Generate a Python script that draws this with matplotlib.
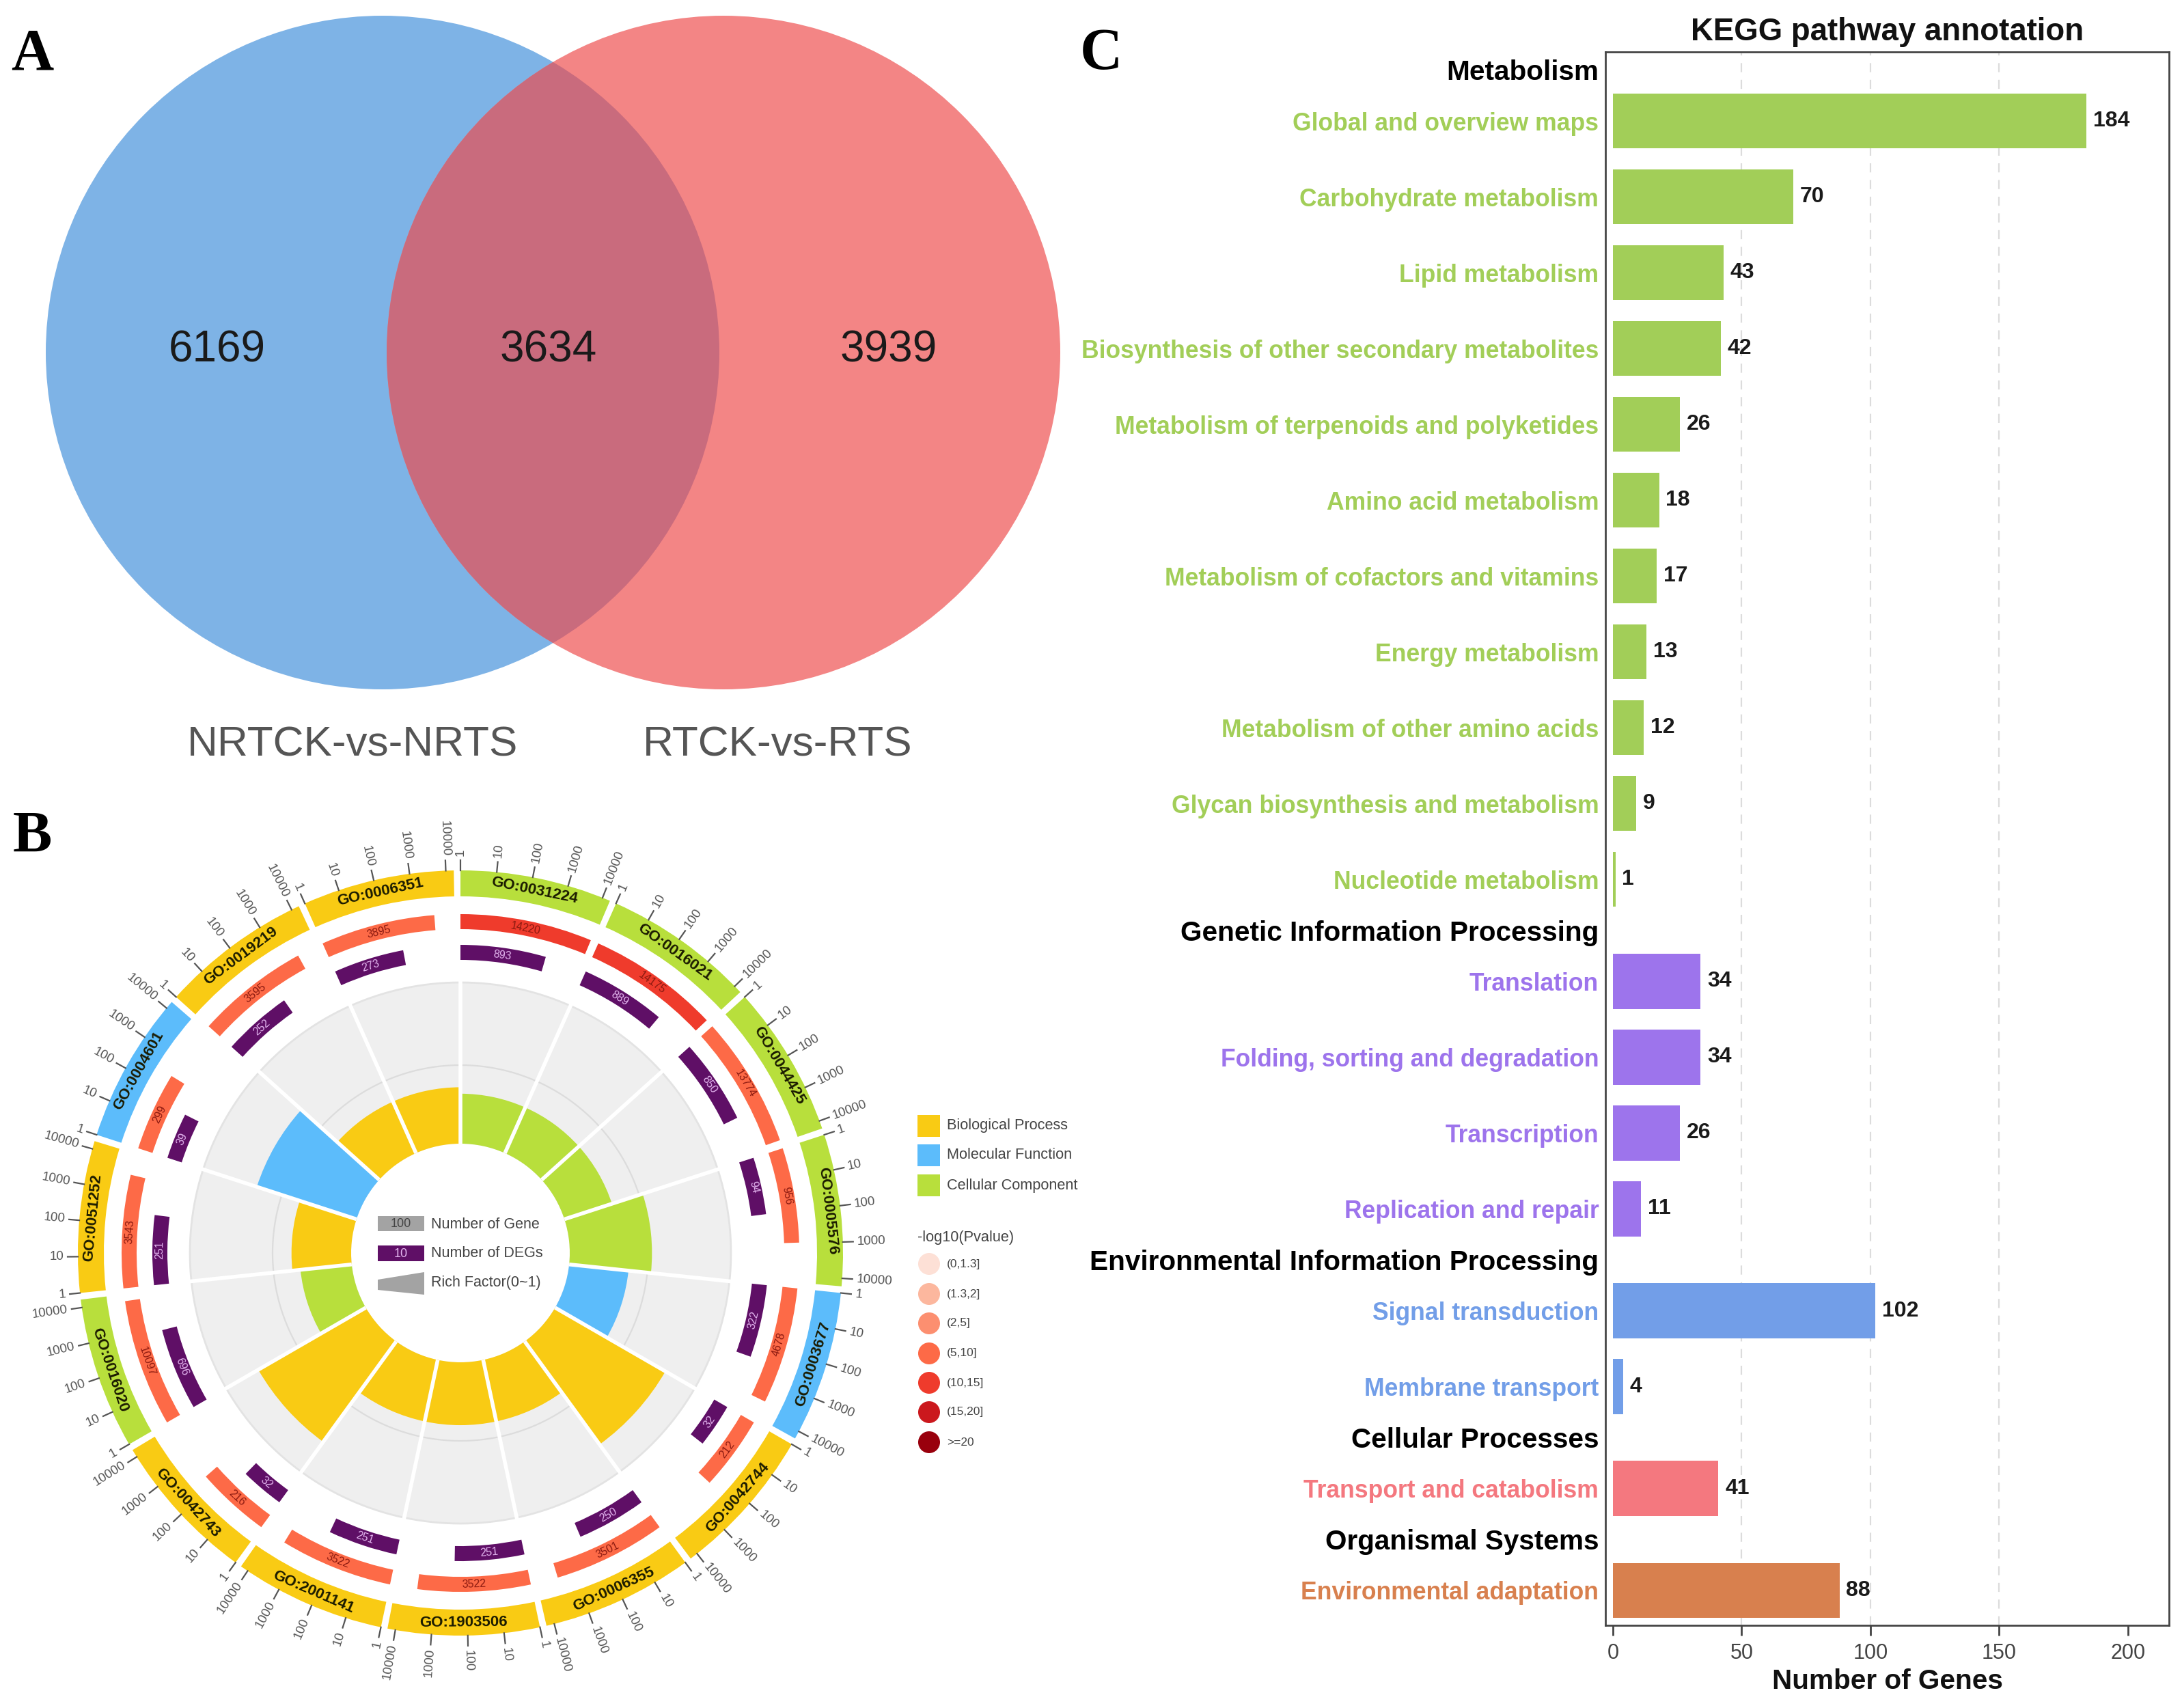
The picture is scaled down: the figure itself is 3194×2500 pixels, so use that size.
'''
Three panel figure, venn of DEGs, GO circle plot and KEGG bar chart
'''

#############################################
#FRONT END
import numpy as np
import matplotlib
matplotlib.use('Agg')
from matplotlib import pyplot as plt
from matplotlib.patches import Circle, Rectangle, Polygon

matplotlib.rcParams.update({'font.family': ['Liberation Sans', 'DejaVu Sans']})
#############################################

#############################################
#DATA

#Venn
venn_counts = ['6169', '3634', '3939']
venn_names = ['NRTCK-vs-NRTS', 'RTCK-vs-RTS']

#GO circle, clockwise from the top
go_terms = ['GO:0031224', 'GO:0016021', 'GO:0044425', 'GO:0005576', 'GO:0003677',
            'GO:0042744', 'GO:0006355', 'GO:1903506', 'GO:2001141', 'GO:0042743',
            'GO:0016020', 'GO:0051252', 'GO:0004601', 'GO:0019219', 'GO:0006351']
go_class = ['CC', 'CC', 'CC', 'CC', 'MF', 'BP', 'BP', 'BP', 'BP', 'BP', 'CC', 'BP', 'MF', 'BP', 'BP']
gene_num = [14220, 14175, 13774, 956, 4678, 212, 3501, 3522, 3522, 216, 10097, 3543, 299, 3595, 3895]
deg_num = [893, 889, 850, 94, 322, 32, 250, 251, 251, 32, 696, 251, 39, 252, 273]
rich_factor = [0.31, 0.31, 0.31, 0.51, 0.37, 0.79, 0.39, 0.39, 0.39, 0.77, 0.32, 0.37, 0.65, 0.35, 0.35]
pval_level = [4, 4, 3, 3, 3, 3, 3, 3, 3, 3, 3, 3, 3, 3, 3]
axis_ticks = ['1', '10', '100', '1000', '10000']

class_names = ['Biological Process', 'Molecular Function', 'Cellular Component']
pval_names = ['(0,1.3]', '(1.3,2]', '(2,5]', '(5,10]', '(10,15]', '(15,20]', '>=20']

#KEGG
kegg_groups = ['Metabolism', 'Genetic Information Processing',
               'Environmental Information Processing', 'Cellular Processes',
               'Organismal Systems']
metabolism_terms = ['Global and overview maps', 'Carbohydrate metabolism', 'Lipid metabolism',
                    'Biosynthesis of other secondary metabolites',
                    'Metabolism of terpenoids and polyketides', 'Amino acid metabolism',
                    'Metabolism of cofactors and vitamins', 'Energy metabolism',
                    'Metabolism of other amino acids', 'Glycan biosynthesis and metabolism',
                    'Nucleotide metabolism']
metabolism_vals = [184, 70, 43, 42, 26, 18, 17, 13, 12, 9, 1]
genetic_terms = ['Translation', 'Folding, sorting and degradation', 'Transcription',
                 'Replication and repair']
genetic_vals = [34, 34, 26, 11]
environ_terms = ['Signal transduction', 'Membrane transport']
environ_vals = [102, 4]
cellular_terms = ['Transport and catabolism']
cellular_vals = [41]
organism_terms = ['Environmental adaptation']
organism_vals = [88]
x_ticks = [0, 50, 100, 150, 200]
grid_at = [50, 100, 150]
#############################################

#############################################
#COLOURS AND LAYOUT
class_cols = {'BP': '#f9cb14', 'MF': '#5cbcfb', 'CC': '#b8df3c'}
pval_cols = ['#fde0d6', '#fcb79e', '#fc8f70', '#fd6a47', '#ef3b2c', '#cb181d', '#99000d']
deg_col = '#5f0f66'
kegg_cols = ['#a2ce58', '#9d74ec', '#729ee8', '#f4787f', '#d8804e']

W, H = 3194, 2500
fig = plt.figure(figsize=(W/100, H/100), dpi=100, facecolor='white')

#Overlay in figure pixels for the venn, the legends and the panel letters
ov = fig.add_axes([0, 0, 1, 1], zorder=0)
ov.set_xlim(0, W)
ov.set_ylim(H, 0)
ov.axis('off')
#############################################

#############################################
#PANEL A
left_c = Circle((560, 516), 493, fc='#7eb3e6', ec='none')
right_c = Circle((1059, 516), 493, fc='#f38585', ec='none')
ov.add_patch(left_c)
ov.add_patch(right_c)
over_c = Circle((560, 516), 493, fc='#c96b7d', ec='none')
ov.add_patch(over_c)
over_c.set_clip_path(Circle((1059, 516), 493, transform=ov.transData))

for x, lab in zip([318, 803, 1301], venn_counts):
    ov.text(x, 513, lab, fontsize=46, color='#1a1a1a', ha='center', va='center')
for x, lab in zip([516, 1138], venn_names):
    ov.text(x, 1091, lab, fontsize=44.7, color='#555555', ha='center', va='center')

for x, y, lab in [(47, 81, 'A'), (47, 1226, 'B'), (1612, 81, 'C')]:
    ov.text(x, y, lab, fontsize=62, fontweight='bold', family='Liberation Serif',
            ha='center', va='center', color='k')
#############################################

#############################################
#PANEL B, radii are in image pixels
cx, cy = 674, 1834
r_max = 600
hole_r, mid_r, grey_r = 160, 275, 396
deg_in, deg_out = 429, 451
gene_in, gene_out = 474, 496
ring_in, ring_out = 522, 560
sector = 24
per_decade = 5.45

pol = fig.add_axes([(cx-r_max)/W, (H-cy-r_max)/H, 2*r_max/W, 2*r_max/H],
                   projection='polar', zorder=1)
pol.patch.set_alpha(0)
pol.set_theta_zero_location('N')
pol.set_theta_direction(-1)
pol.set_ylim(0, r_max)
pol.axis('off')


def tang_rot(deg):
    #text along the ring, kept upright
    if 90 < deg < 270:
        return 180 - deg
    return -deg


def rad_rot(deg):
    #text across the ring
    if deg <= 180:
        return 90 - deg, 'left'
    return 270 - deg, 'right'


for i, term in enumerate(go_terms):
    start = i*sector
    col = class_cols[go_class[i]]

    #grey background and rich factor wedge
    pol.bar(np.radians(start), grey_r-hole_r, np.radians(sector), bottom=hole_r,
            align='edge', color='#efefef', lw=0, zorder=1)
    pol.bar(np.radians(start), rich_factor[i]*(grey_r-hole_r), np.radians(sector), bottom=hole_r,
            align='edge', color=col, lw=0, zorder=3)

    #outer ring
    pol.bar(np.radians(start), ring_out-ring_in, np.radians(23), bottom=ring_in,
            align='edge', color=col, lw=0, zorder=3)
    pol.text(np.radians(start+11.5), (ring_in+ring_out)/2, term, fontsize=16, fontweight='bold',
             color='#1a1a00', rotation=tang_rot(start+11.5), ha='center', va='center',
             rotation_mode='anchor', zorder=5)

    #gene and DEG rings, length is log10 of the count
    g_w = np.log10(gene_num[i])*per_decade
    d_w = np.log10(deg_num[i])*per_decade
    pol.bar(np.radians(start), gene_out-gene_in, np.radians(g_w), bottom=gene_in,
            align='edge', color=pval_cols[pval_level[i]], lw=0, zorder=3)
    pol.bar(np.radians(start), deg_out-deg_in, np.radians(d_w), bottom=deg_in,
            align='edge', color=deg_col, lw=0, zorder=3)
    pol.text(np.radians(start+g_w/2), (gene_in+gene_out)/2, str(gene_num[i]), fontsize=11.5,
             color='#8c1a10', rotation=tang_rot(start+g_w/2), ha='center', va='center',
             rotation_mode='anchor', zorder=5)
    pol.text(np.radians(start+d_w/2), (deg_in+deg_out)/2, str(deg_num[i]), fontsize=11.5,
             color='#e3b5ef', rotation=tang_rot(start+d_w/2), ha='center', va='center',
             rotation_mode='anchor', zorder=5)

    #log axis outside of the ring
    for j, lab in enumerate(axis_ticks):
        ang = start + j*per_decade
        pol.plot([np.radians(ang)]*2, [ring_out, ring_out+15], color='#555555', lw=1.6, zorder=4)
        rot, ha = rad_rot(ang)
        pol.text(np.radians(ang), ring_out+21, lab, fontsize=13.5, color='#555555', rotation=rot,
                 ha=ha, va='center', rotation_mode='anchor', zorder=5)

    #white gap between the sectors
    pol.plot([np.radians(start)]*2, [hole_r, grey_r+3], color='white', lw=4, zorder=4,
             solid_capstyle='butt')

arc = np.radians(np.linspace(0, 360, 721))
pol.plot(arc, np.full(arc.shape, mid_r), color='#dcdcdc', lw=1.6, zorder=2)
pol.plot(arc, np.full(arc.shape, grey_r), color='#e3e3e3', lw=2, zorder=2)

#legend inside the hole
ov.add_patch(Rectangle((553, 1780), 68, 22, fc='#a3a3a3', ec='none'))
ov.text(587, 1791, '100', fontsize=13, color='#444444', ha='center', va='center')
ov.add_patch(Rectangle((553, 1823), 68, 23, fc=deg_col, ec='none'))
ov.text(587, 1835, '10', fontsize=13, color='#e3b5ef', ha='center', va='center')
ov.add_patch(Polygon([(553, 1873), (621, 1862), (621, 1895), (553, 1888)], fc='#a3a3a3', ec='none'))
for y, lab in zip([1792, 1835, 1878], ['Number of Gene', 'Number of DEGs', 'Rich Factor(0~1)']):
    ov.text(631, y, lab, fontsize=15.5, color='#444444', ha='left', va='center')

#legend to the right
for y, k, lab in zip([1632, 1675, 1719], ['BP', 'MF', 'CC'], class_names):
    ov.add_patch(Rectangle((1343, y), 33, 32, fc=class_cols[k], ec='none'))
    ov.text(1386, y+16, lab, fontsize=15.7, color='#444444', ha='left', va='center')
ov.text(1343, 1811, '-log10(Pvalue)', fontsize=15.7, color='#444444', ha='left', va='center')
for y, c, lab in zip([1850, 1894, 1937, 1981, 2024, 2067, 2111], pval_cols, pval_names):
    ov.add_patch(Circle((1360, y), 16, fc=c, ec='none'))
    ov.text(1386, y, lab, fontsize=12.5, color='#444444', ha='left', va='center')
#############################################

#############################################
#PANEL C
ax = fig.add_axes([2350/W, (H-2379)/H, 825/W, 2303/H], zorder=2)

group_terms = [metabolism_terms, genetic_terms, environ_terms, cellular_terms, organism_terms]
group_vals = [metabolism_vals, genetic_vals, environ_vals, cellular_vals, organism_vals]

#Rows are a bar step apart, a group header sits in a bigger gap
head_gap = 0.672
row = -head_gap
ytick_pos, ytick_lab, ytick_col = [], [], []
for grp, terms, vals, col in zip(kegg_groups, group_terms, group_vals, kegg_cols):
    ytick_pos.append(row)
    ytick_lab.append(grp)
    ytick_col.append('k')
    row += head_gap
    for term, val in zip(terms, vals):
        ax.barh(row, val, height=0.725, color=col, zorder=2)
        ax.annotate(str(val), (val, row), xytext=(7, 0), textcoords='offset points',
                    fontsize=23, fontweight='bold', color='#1a1a1a', va='center', ha='left')
        ytick_pos.append(row)
        ytick_lab.append(term)
        ytick_col.append(col)
        row += 1
    row += head_gap - 1

ax.set_xlim(-2.9, 216)
ax.set_ylim(row - head_gap + 0.46, -0.91)
ax.vlines(grid_at, *ax.get_ylim(), color='#dcdcdc', lw=1.6, linestyles=(0, (6, 5)), zorder=1)

ax.set_xticks(x_ticks)
ax.tick_params(axis='x', length=11, width=2, color='#444444', labelsize=22,
               labelcolor='#444444', pad=8)
ax.set_yticks(ytick_pos)
ax.set_yticklabels(ytick_lab)
ax.tick_params(axis='y', length=0, pad=7)
for lab, col, pos in zip(ax.get_yticklabels(), ytick_col, ytick_pos):
    lab.set_fontweight('bold')
    lab.set_color(col)
    lab.set_fontsize(29.2 if col == 'k' else 25.6)
for spine in ax.spines.values():
    spine.set_linewidth(2)
    spine.set_color('#444444')

ax.set_title('KEGG pathway annotation', fontsize=32.9, fontweight='bold', color='#111111', pad=12)
ax.set_xlabel('Number of Genes', fontsize=29.2, fontweight='bold', color='#111111', labelpad=5)
#############################################

fig.savefig('out.png', dpi=100)
